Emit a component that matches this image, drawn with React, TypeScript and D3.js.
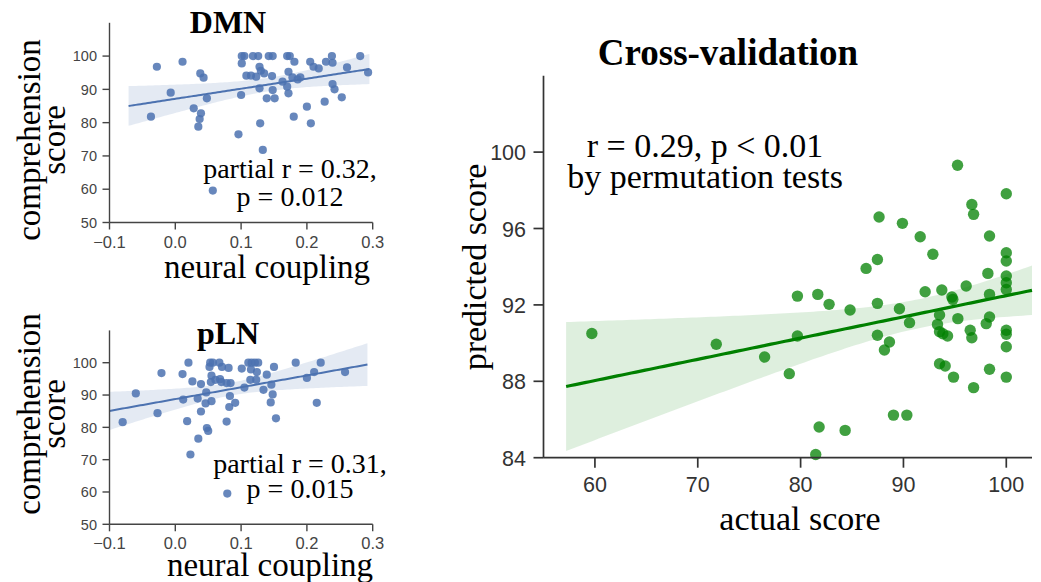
import React from "react";
import * as d3 from "d3";

// ---------- DATA ----------
const dmnCoupling = [
  -0.028, 0.011, -0.007, -0.037, 0.038, 0.043, 0.048, 0.028, 0.039, 0.037, 0.035,
  0.101, 0.105, 0.101, 0.118, 0.126, 0.142, 0.148, 0.17, 0.174, 0.181, 0.205, 0.21,
  0.218, 0.229, 0.238, 0.239, 0.261, 0.281, 0.293, 0.108, 0.115, 0.123, 0.128, 0.13,
  0.135, 0.147, 0.128, 0.148, 0.139, 0.151, 0.1, 0.163, 0.17, 0.172, 0.172, 0.178,
  0.186, 0.19, 0.239, 0.242, 0.253, 0.227, 0.2, 0.18, 0.206, 0.129, 0.096, 0.133, 0.057,
];
const dmnScore = [
  96.8, 98.3, 89, 81.8, 94.8, 93.5, 87.3, 84.3, 82.8, 81.1, 78.8,
  100, 100, 97.8, 100, 100, 100, 100, 100, 100, 98.3, 98.3, 96.8,
  96.3, 98.3, 100, 98, 96.6, 100, 95.1, 94.1, 94.1, 93.8, 96.8, 95.6,
  94.8, 94, 90.3, 89.8, 87.3, 87.3, 88.3, 92.3, 90.8, 88.8, 95.3, 93.6,
  93, 93.6, 91.6, 90, 87.6, 86.3, 84.8, 81.8, 79.8, 79.8, 76.5, 71.8, 59.6,
];

const plnCoupling = [
  -0.08, -0.06, -0.027, -0.021, 0.011, 0.012, 0.018, 0.02, 0.023, 0.026, 0.034, 0.035,
  0.039, 0.039, 0.047, 0.046, 0.048, 0.05, 0.053, 0.057, 0.067, 0.052, 0.055, 0.054,
  0.061, 0.068, 0.07, 0.055, 0.071, 0.081, 0.078, 0.084, 0.083, 0.082, 0.091, 0.078,
  0.101, 0.105, 0.111, 0.116, 0.121, 0.126, 0.115, 0.124, 0.114, 0.123, 0.139, 0.15,
  0.146, 0.134, 0.148, 0.145, 0.153, 0.183, 0.2, 0.211, 0.221, 0.215, 0.258, 0.079,
];
const plnScore = [
  81.6, 90.5, 84.4, 96.8, 96.5, 88.6, 81.9, 100, 71.6, 94.2, 88.9, 76.5,
  93.4, 84.9, 90.8, 87.4, 79.8, 78.9, 100, 100, 100, 98.7, 96, 94,
  94.7, 94.9, 94, 88.1, 98.7, 98.4, 93.7, 93.7, 89.7, 86.3, 87.6, 81.8,
  98.2, 92.3, 100, 100, 100, 100, 97.9, 97.1, 94.7, 94.7, 96.3, 98.7,
  93.2, 91.6, 90.2, 87.7, 82.8, 100, 95.3, 97.1, 100, 87.6, 97.1, 59.5,
];

const actualScore = [
  59.7, 71.8, 76.5, 78.9, 95.26, 100, 96.65, 96.82, 87.63, 89.9, 91.63, 98.37,
  92.86, 100, 100, 87.47, 86.37, 98.21, 100, 100, 100, 79.69, 81.67, 82.77,
  84.81, 87.47, 89.61, 90.59, 92.11, 93.73, 94.71, 94.8, 96.1, 98.37, 93.51, 95.29,
  93.31, 98.37, 98.05, 93.51, 93.83, 94.29, 96.49, 96.65, 100, 100, 100, 79.69,
  87.47, 88.64, 88.15, 93.51, 94.06, 94.87, 98.37, 96.82, 100, 89.03, 90.33, 81.8,
  84.33, 81.47,
];
const predictedScore = [
  90.5, 89.94, 89.27, 88.4, 99.31, 97.82, 97.26, 96.74, 96.6, 96.27, 95.57, 95.61,
  94.65, 94.73, 94.3, 94.38, 93.91, 93.65, 93.51, 93.16, 92.81, 92.46, 92.55, 92.03,
  91.73, 92.08, 91.8, 91.07, 92.69, 92.78, 92.41, 92.29, 92.99, 92.55, 91.47, 91.28,
  90.98, 91.37, 91.02, 90.6, 90.49, 90.37, 90.67, 90.28, 90.67, 90.46, 89.81, 90.37,
  90.41, 90.06, 89.64, 88.92, 88.8, 88.22, 88.63, 87.67, 88.22, 86.23, 86.23, 85.61,
  85.43, 84.17,
];

const smallXTicks = [-0.1, 0.0, 0.1, 0.2, 0.3];
const smallYTicks = [50, 60, 70, 80, 90, 100];
const cvXTicks = [60, 70, 80, 90, 100];
const cvYTicks = [84, 88, 92, 96, 100];

// regression fit ranges (x-limits at fit time)
const dmnFitRange = [-0.071, 0.295];
const plnFitRange = [-0.1, 0.292];
const cvFitRange = [57.2, 102.5];

// ---------- helpers ----------
function regress(xs: number[], ys: number[], range: number[]) {
  const n = xs.length;
  const mx = d3.mean(xs) as number;
  const my = d3.mean(ys) as number;
  let sxx = 0, sxy = 0;
  xs.forEach((x, i) => {
    sxx += (x - mx) * (x - mx);
    sxy += (x - mx) * (ys[i] - my);
  });
  const b = sxy / sxx;
  const a = my - b * mx;
  let sse = 0;
  xs.forEach((x, i) => {
    const r = ys[i] - (a + b * x);
    sse += r * r;
  });
  const s = Math.sqrt(sse / (n - 2));
  const t = 2.0;
  const grid = d3.range(0, 101).map((i) => range[0] + ((range[1] - range[0]) * i) / 100);
  return grid.map((x) => {
    const yh = a + b * x;
    const se = s * Math.sqrt(1 / n + ((x - mx) * (x - mx)) / sxx);
    return { x, y: yh, lo: yh - t * se, hi: yh + t * se };
  });
}

const SERIF = "'Liberation Serif', 'Times New Roman', serif";
const SANS = "'Liberation Sans', Arial, Helvetica, sans-serif";

type SmallProps = {
  xs: number[];
  ys: number[];
  fitRange: number[];
  yBottom: number;
  yTop: number;
  title: string;
  titleY: number;
  annot: string[];
  annotX: number;
  annotY: number[];
  xLabelX: number;
  xLabelY: number;
  yLabelCY: number;
};

function SmallPanel(p: SmallProps) {
  const x = d3.scaleLinear().domain([-0.1, 0.3]).range([109.5, 372.7]);
  const y = d3.scaleLinear().domain([50, 110]).range([p.yBottom, p.yTop]);
  const fit = regress(p.xs, p.ys, p.fitRange);
  const area = d3
    .area<{ x: number; lo: number; hi: number }>()
    .x((d) => x(d.x))
    .y0((d) => y(d.lo))
    .y1((d) => y(d.hi));
  const line = d3
    .line<{ x: number; y: number }>()
    .x((d) => x(d.x))
    .y((d) => y(d.y));
  const blue = "#4C72B0";
  const axisCol = "#444";
  return (
    <g>
      <path d={area(fit) || ""} fill={blue} fillOpacity={0.15} />
      {p.xs.map((v, i) => (
        <circle key={i} cx={x(v)} cy={y(p.ys[i])} r={4.1} fill={blue} fillOpacity={0.85} />
      ))}
      <path d={line(fit) || ""} fill="none" stroke={blue} strokeWidth={2} />
      {/* axes */}
      <line x1={x(-0.1)} x2={x(0.3)} y1={y(50)} y2={y(50)} stroke={axisCol} strokeWidth={1.4} />
      <line x1={x(-0.1)} x2={x(-0.1)} y1={y(50)} y2={y(110)} stroke={axisCol} strokeWidth={1.4} />
      {smallXTicks.map((t) => (
        <g key={t}>
          <line x1={x(t)} x2={x(t)} y1={y(50)} y2={y(50) + 7} stroke={axisCol} strokeWidth={1.4} />
          <text
            x={x(t)}
            y={y(50) + 25}
            textAnchor="middle"
            fontFamily={SANS}
            fontSize={16.5}
            fill="#444"
          >
            {t < 0 ? "\u2212" + Math.abs(t).toFixed(1) : t.toFixed(1)}
          </text>
        </g>
      ))}
      {smallYTicks.map((t) => (
        <g key={t}>
          <line x1={x(-0.1) - 7} x2={x(-0.1)} y1={y(t)} y2={y(t)} stroke={axisCol} strokeWidth={1.4} />
          <text
            x={97}
            y={y(t) + 5.2}
            textAnchor="end"
            fontFamily={SANS}
            fontSize={14.5}
            fill="#444"
          >
            {t}
          </text>
        </g>
      ))}
      <text x={228} y={p.titleY} textAnchor="middle" fontFamily={SERIF} fontWeight="bold" fontSize={32}>
        {p.title}
      </text>
      {p.annot.map((s, i) => (
        <text key={i} x={p.annotX} y={p.annotY[i]} textAnchor="middle" fontFamily={SERIF} fontSize={28}>
          {s}
        </text>
      ))}
      <text x={p.xLabelX} y={p.xLabelY} textAnchor="middle" fontFamily={SERIF} fontSize={33}>
        neural coupling
      </text>
      <text transform={`translate(40,${p.yLabelCY}) rotate(-90)`} textAnchor="middle" fontFamily={SERIF} fontSize={33}>
        comprehension
      </text>
      <text transform={`translate(65,${p.yLabelCY}) rotate(-90)`} textAnchor="middle" fontFamily={SERIF} fontSize={33}>
        score
      </text>
    </g>
  );
}

function CVPanel() {
  const x = d3.scaleLinear().domain([55, 102.5]).range([543.5, 1032]);
  const y = d3.scaleLinear().domain([84, 104]).range([457.7, 75.7]);
  const fit = regress(actualScore, predictedScore, cvFitRange);
  const area = d3
    .area<{ x: number; lo: number; hi: number }>()
    .x((d) => x(d.x))
    .y0((d) => y(d.lo))
    .y1((d) => y(d.hi));
  const line = d3
    .line<{ x: number; y: number }>()
    .x((d) => x(d.x))
    .y((d) => y(d.y));
  const green = "#008000";
  const axisCol = "#333";
  return (
    <g>
      <path d={area(fit) || ""} fill={green} fillOpacity={0.13} />
      {actualScore.map((v, i) => (
        <circle key={i} cx={x(v)} cy={y(predictedScore[i])} r={5.7} fill={green} fillOpacity={0.75} />
      ))}
      <path d={line(fit) || ""} fill="none" stroke={green} strokeWidth={3.2} />
      <line x1={x(55)} x2={x(102.5)} y1={y(84)} y2={y(84)} stroke={axisCol} strokeWidth={1.7} />
      <line x1={x(55)} x2={x(55)} y1={y(84)} y2={y(104)} stroke={axisCol} strokeWidth={1.7} />
      {cvXTicks.map((t) => (
        <g key={t}>
          <line x1={x(t)} x2={x(t)} y1={y(84)} y2={y(84) + 10} stroke={axisCol} strokeWidth={1.7} />
          <text x={x(t)} y={y(84) + 34} textAnchor="middle" fontFamily={SANS} fontSize={21.5} fill="#333">
            {t}
          </text>
        </g>
      ))}
      {cvYTicks.map((t) => (
        <g key={t}>
          <line x1={x(55) - 10} x2={x(55)} y1={y(t)} y2={y(t)} stroke={axisCol} strokeWidth={1.7} />
          <text x={526} y={y(t) + 8} textAnchor="end" fontFamily={SANS} fontSize={21.5} fill="#333">
            {t}
          </text>
        </g>
      ))}
      <text x={728} y={65} textAnchor="middle" fontFamily={SERIF} fontWeight="bold" fontSize={37}>
        Cross-validation
      </text>
      <text x={705} y={157} textAnchor="middle" fontFamily={SERIF} fontSize={34}>
        r = 0.29, p &lt; 0.01
      </text>
      <text x={705} y={188} textAnchor="middle" fontFamily={SERIF} fontSize={34}>
        by permutation tests
      </text>
      <text x={800} y={530} textAnchor="middle" fontFamily={SERIF} fontSize={34}>
        actual score
      </text>
      <text transform="translate(486,267) rotate(-90)" textAnchor="middle" fontFamily={SERIF} fontSize={34}>
        predicted score
      </text>
    </g>
  );
}

export default function App() {
  return (
    <svg
      width={1041}
      height={582}
      style={{ position: "absolute", left: 0, top: 0, background: "#fff" }}
    >
      <rect width={1041} height={582} fill="#fff" />
      <SmallPanel
        xs={dmnCoupling}
        ys={dmnScore}
        fitRange={dmnFitRange}
        yBottom={222.5}
        yTop={22.8}
        title="DMN"
        titleY={33}
        annot={["partial r = 0.32,", "p = 0.012"]}
        annotX={290}
        annotY={[178, 205.5]}
        xLabelX={267}
        xLabelY={278}
        yLabelCY={140}
      />
      <SmallPanel
        xs={plnCoupling}
        ys={plnScore}
        fitRange={plnFitRange}
        yBottom={524.3}
        yTop={330.4}
        title="pLN"
        titleY={344}
        annot={["partial r = 0.31,", "p = 0.015"]}
        annotX={300}
        annotY={[473, 498]}
        xLabelX={270}
        xLabelY={576}
        yLabelCY={414}
      />
      <CVPanel />
    </svg>
  );
}
